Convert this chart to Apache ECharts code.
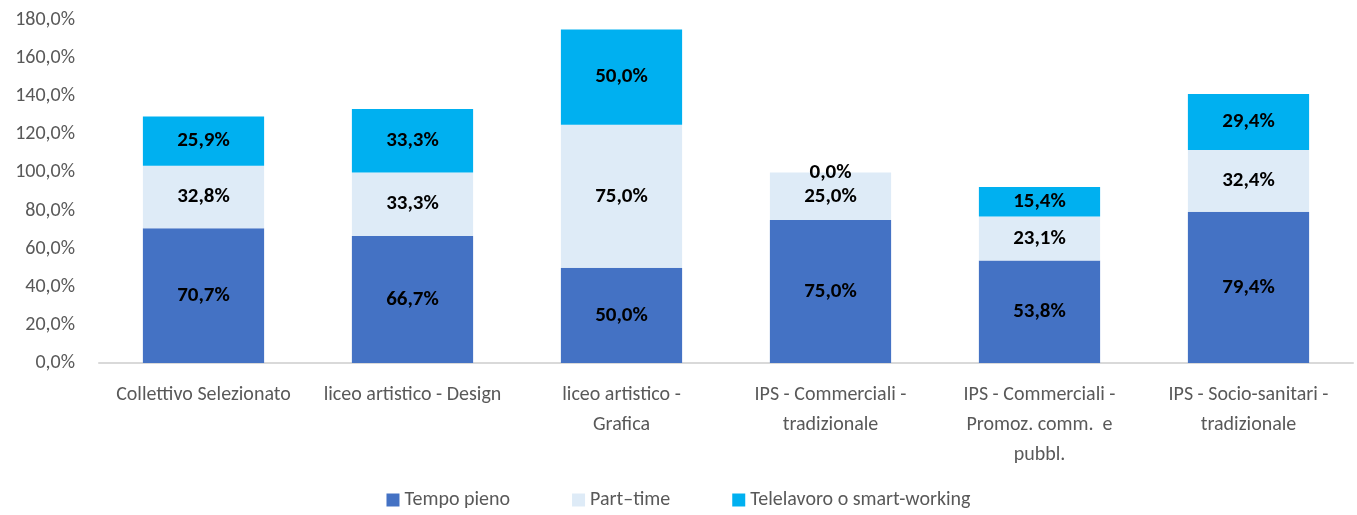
<!DOCTYPE html>
<html>
<head>
    <meta charset="utf-8">
    <title>Tipologia di contratto</title>
    <script src="https://cdn.jsdelivr.net/npm/echarts@6/dist/echarts.min.js"></script>
    <style>
        html, body { margin: 0; padding: 0; background: #fff; }
        #chart1 { width: 1357px; height: 515px; }
    </style>
</head>
<body>
<div id="chart1"></div>
<script type="text/javascript">
    // categorie (asse x)
    var categorie = [
        'Collettivo Selezionato',
        'liceo artistico - Design',
        'liceo artistico -\nGrafica',
        'IPS - Commerciali -\ntradizionale',
        'IPS - Commerciali -\nPromoz. comm.  e\npubbl.',
        'IPS - Socio-sanitari -\ntradizionale'
    ];
    // valori delle serie (%)
    var tempoPieno = [70.7, 66.7, 50.0, 75.0, 53.8, 79.4];
    var partTime = [32.8, 33.3, 75.0, 25.0, 23.1, 32.4];
    var telelavoro = [25.9, 33.3, 50.0, 0.0, 15.4, 29.4];
    var nomiSerie = ['Tempo pieno', 'Part\u2013time', 'Telelavoro o smart-working'];

    var font = 'Carlito, Lato, sans-serif';

    function pct(v) {
        return v.toFixed(1).replace('.', ',') + '%';
    }

    function serie(nome, dati, colore) {
        return {
            name: nome,
            type: 'bar',
            stack: 'tot',
            barCategoryGap: '42%',
            data: dati,
            itemStyle: { color: colore },
            label: {
                show: true,
                position: 'inside',
                color: '#000',
                fontWeight: 'bold',
                fontSize: 21,
                fontFamily: font,
                formatter: function (p) { return pct(p.value); }
            }
        };
    }

    var myChart1 = echarts.init(document.getElementById('chart1'));
    myChart1.setOption({
        animation: false,
        textStyle: { fontFamily: font },
        grid: { left: 99, right: 4, top: 20, bottom: 152 },
        legend: {
            data: nomiSerie,
            bottom: 0,
            left: 'center',
            itemWidth: 13,
            itemHeight: 13,
            itemGap: 62,
            icon: 'rect',
            textStyle: { color: '#595959', fontSize: 20, fontFamily: font }
        },
        xAxis: {
            type: 'category',
            data: categorie,
            axisLine: { lineStyle: { color: '#d9d9d9', width: 2 } },
            axisTick: { show: false },
            axisLabel: {
                interval: 0,
                color: '#595959',
                fontSize: 20,
                lineHeight: 30,
                margin: 17,
                fontFamily: font
            }
        },
        yAxis: {
            type: 'value',
            min: 0,
            max: 180,
            interval: 20,
            splitLine: { show: false },
            axisLine: { show: false },
            axisTick: { show: false },
            axisLabel: {
                color: '#595959',
                fontSize: 20,
                margin: 24,
                fontFamily: font,
                formatter: function (v) { return pct(v); }
            }
        },
        series: [
            serie(nomiSerie[0], tempoPieno, '#4472c4'),
            serie(nomiSerie[1], partTime, '#deebf7'),
            serie(nomiSerie[2], telelavoro, '#00b0f0')
        ]
    });
</script>
</body>
</html>
